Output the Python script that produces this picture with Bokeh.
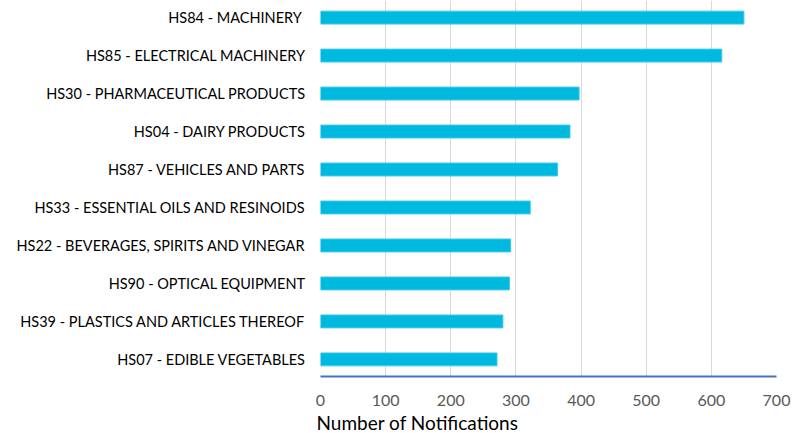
from bokeh.plotting import figure
from bokeh.models import FactorRange, Range1d, Title, FixedTicker
from bokeh.embed import file_html
from bokeh.resources import INLINE

categories = [
    "HS84 -  MACHINERY",
    "HS85 - ELECTRICAL MACHINERY",
    "HS30 - PHARMACEUTICAL PRODUCTS",
    "HS04 - DAIRY PRODUCTS",
    "HS87 - VEHICLES AND PARTS",
    "HS33 - ESSENTIAL OILS AND RESINOIDS",
    "HS22 - BEVERAGES, SPIRITS AND VINEGAR",
    "HS90 - OPTICAL EQUIPMENT",
    "HS39 - PLASTICS AND ARTICLES THEREOF",
    "HS07 - EDIBLE VEGETABLES",
]
notifications = [650, 616, 397, 383, 364, 322, 292, 290, 280, 271]
x_ticks = [0, 100, 200, 300, 400, 500, 600, 700]

p = figure(width=807, height=433, output_backend="svg", toolbar_location=None,
           y_range=FactorRange(factors=categories[::-1], range_padding=-0.01),
           x_range=Range1d(0, 700),
           min_border_left=320, min_border_right=31, min_border_top=0, min_border_bottom=56)
p.outline_line_color = None

p.hbar(y=categories, right=notifications, left=0, height=0.34,
       fill_color="#00B9DF", line_color="#3FCBEA", line_width=1)

p.xaxis.ticker = FixedTicker(ticks=x_ticks)
p.xaxis.axis_line_color = "#4472C4"
p.xaxis.axis_line_width = 2
p.xaxis.major_tick_line_color = None
p.xaxis.minor_tick_line_color = None
p.xaxis.major_label_standoff = 12
p.xaxis.major_label_text_font = "Lato"
p.xaxis.major_label_text_font_size = "16px"
p.xaxis.major_label_text_color = "#595959"

p.yaxis.axis_line_color = None
p.yaxis.major_tick_line_color = None
p.yaxis.minor_tick_line_color = None
p.yaxis.major_label_standoff = 9
p.yaxis.major_label_text_font = "Lato"
p.yaxis.major_label_text_font_size = "14.5px"
p.yaxis.major_label_text_color = "#000000"

p.xgrid.grid_line_color = "#D9D9D9"
p.xgrid.grid_line_width = 1
p.ygrid.grid_line_color = None

p.add_layout(Title(text="Number of Notifications", align="left", text_font="Lato",
                   text_font_size="19px", text_font_style="normal", text_color="#000000",
                   offset=-4, standoff=0), "below")

open("out.html", "w").write(file_html(p, INLINE))
